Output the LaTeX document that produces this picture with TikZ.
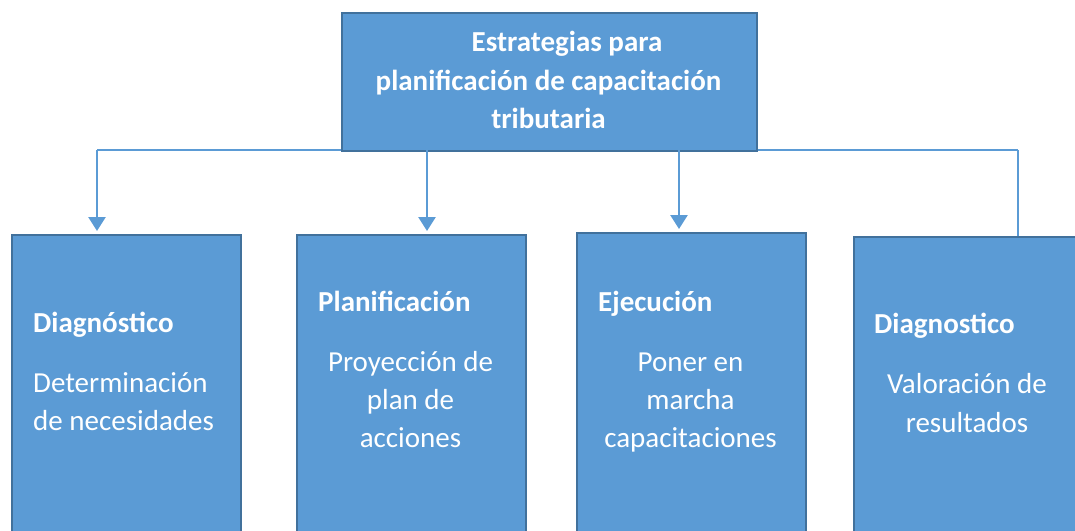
\documentclass[tikz,border=0pt]{standalone}
\usepackage{fontspec}
\setmainfont{Carlito}
\usetikzlibrary{arrows.meta}
\definecolor{boxfill}{HTML}{5B9BD5}
\definecolor{boxline}{HTML}{41719C}
\definecolor{connc}{HTML}{5B9BD5}
\tikzset{
  box/.style={draw=boxline, fill=boxfill, line width=2.2pt, rectangle, inner sep=0pt, anchor=north west},
  conn/.style={draw=connc, line width=2.6pt},
  arr/.style={conn, -{Triangle[width=17pt,length=14pt]}, shorten >=3pt},
  txt/.style={text=white, font=\fontsize{29}{38}\selectfont, inner sep=0pt, anchor=base},
  hdr/.style={text=white, font=\fontsize{29}{38}\selectfont\bfseries, inner sep=0pt, anchor=base west},
}
\begin{document}
\begin{tikzpicture}[x=1pt,y=-1pt]
\useasboundingbox (0,0) rectangle (1075,530);
\clip (0,0) rectangle (1075,530);
% connectors behind boxes
\coordinate (a1) at (97,150);
\coordinate (a2) at (427,150);
\coordinate (a3) at (679,150);
\coordinate (a4) at (1018,150);
\draw[conn] (a1) -- (a4);
% boxes
\node[box, minimum width=415pt, minimum height=138pt] (top) at (341,12) {};
\node[box, minimum width=229pt, minimum height=310pt] (b1) at (11,234) {};
\node[box, minimum width=229pt, minimum height=310pt] (b2) at (296,234) {};
\node[box, minimum width=229pt, minimum height=310pt] (b3) at (576,232) {};
\node[box, minimum width=229pt, minimum height=310pt] (b4) at (853,236) {};
\draw[arr] (a1) -- (a1 |- b1.north);
\draw[arr] (a2) -- (a2 |- b2.north);
\draw[arr] (a3) -- (a3 |- b3.north);
\draw[conn] (a4) -- (a4 |- b4.north);
% title
\node[txt, font=\fontsize{29}{38}\selectfont\bfseries] (t1) at (567,51) {Estrategias para};
\node[txt, font=\fontsize{29}{38}\selectfont\bfseries] (t2) at (548.5,90) {planificación de capacitación};
\node[txt, font=\fontsize{29}{38}\selectfont\bfseries] (t3) at (548.5,128) {tributaria};
% box 1
\node[hdr] (h1) at (33,332) {Diagnóstico};
\node[txt, anchor=base west] (p1a) at (33,392) {Determinación};
\node[txt, anchor=base west] (p1b) at (33,430) {de necesidades};
% box 2
\node[hdr] (h2) at (318,311) {Planificación};
\node[txt] (p2a) at (410.5,371) {Proyección de};
\node[txt] (p2b) at (410.5,409) {plan de};
\node[txt] (p2c) at (410.5,447) {acciones};
% box 3
\node[hdr] (h3) at (598,311) {Ejecución};
\node[txt] (p3a) at (690.5,371) {Poner en};
\node[txt] (p3b) at (690.5,409) {marcha};
\node[txt] (p3c) at (690.5,447) {capacitaciones};
% box 4
\node[hdr] (h4) at (874,333) {Diagnostico};
\node[txt] (p4a) at (967,393) {Valoración de};
\node[txt] (p4b) at (967,432) {resultados};
\end{tikzpicture}
\end{document}
